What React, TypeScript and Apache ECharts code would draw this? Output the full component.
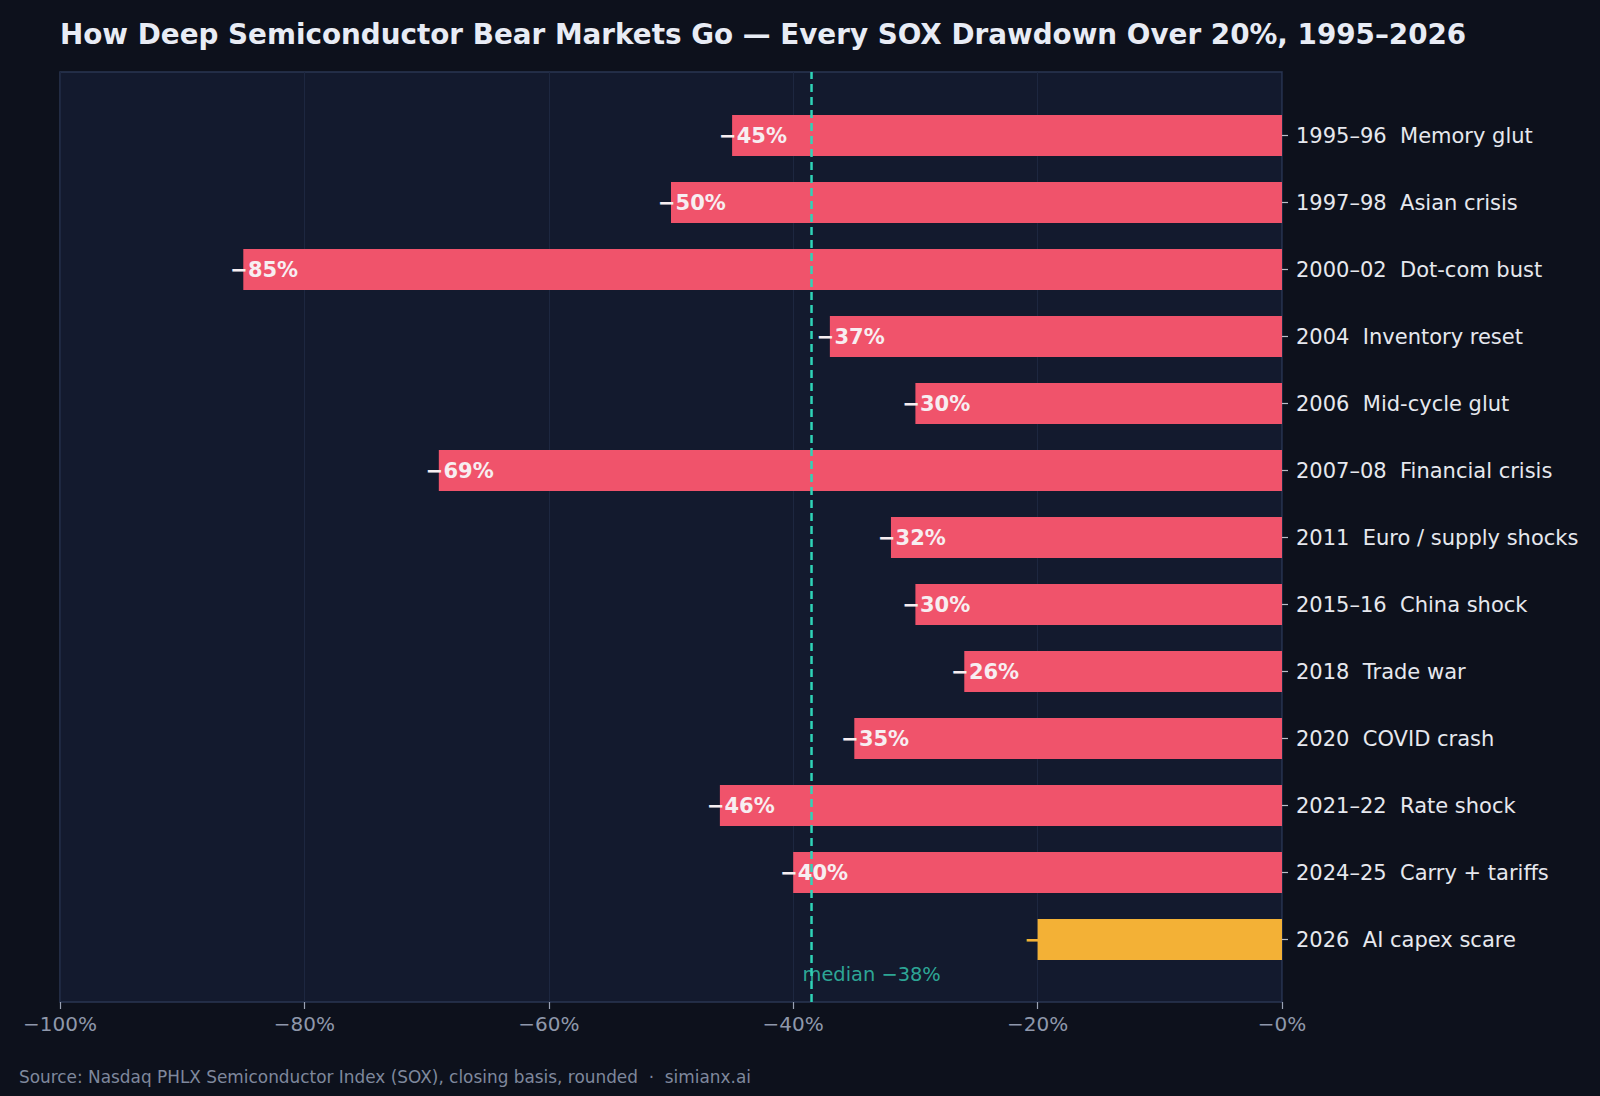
import React, { useEffect, useRef } from "react";
import * as echarts from "echarts";

// SOX drawdowns over 20%, peak to trough, rounded
const periods = [
  "1995–96", "1997–98", "2000–02", "2004", "2006", "2007–08", "2011",
  "2015–16", "2018", "2020", "2021–22", "2024–25", "2026",
];
const causes = [
  "Memory glut", "Asian crisis", "Dot-com bust", "Inventory reset", "Mid-cycle glut",
  "Financial crisis", "Euro / supply shocks", "China shock", "Trade war", "COVID crash",
  "Rate shock", "Carry + tariffs", "AI capex scare",
];
const drawdowns = [-45, -50, -85, -37, -30, -69, -32, -30, -26, -35, -46, -40, -20];
const currentPeriod = "2026";
const medianDrawdown = -38.5;
const medianText = "median −38%";
const xTicks = [-100, -80, -60, -40, -20, 0];
const xTickLabels = ["−100%", "−80%", "−60%", "−40%", "−20%", "−0%"];

const TITLE = "How Deep Semiconductor Bear Markets Go — Every SOX Drawdown Over 20%, 1995–2026";
const SOURCE = "Source: Nasdaq PHLX Semiconductor Index (SOX), closing basis, rounded  ·  simianx.ai";

const RED = "#f0536b";
const GOLD = "#f3b136";
const TEAL = "#2fd4b8";
const FONT = "DejaVu Sans, sans-serif";

export default function App() {
  const ref = useRef<HTMLDivElement>(null);

  useEffect(() => {
    if (!ref.current) return;
    const chart = echarts.init(ref.current, null, { renderer: "svg" });
    const categories = periods.map((p, i) => `${p}  ${causes[i]}`);

    const barData = drawdowns.map((v, i) => {
      const isCurrent = periods[i] === currentPeriod;
      return {
        value: v,
        itemStyle: { color: isCurrent ? GOLD : RED },
        label: { color: isCurrent ? GOLD : "#f7eef1" },
      };
    });

    chart.setOption({
      animation: false,
      backgroundColor: "#0d111c",
      textStyle: { fontFamily: FONT },
      title: [
        {
          text: TITLE,
          left: 60,
          top: 20,
          padding: 0,
          textStyle: { color: "#e8ecf5", fontSize: 27.8, fontWeight: "bold", fontFamily: FONT },
        },
        {
          text: SOURCE,
          left: 19,
          top: 1068,
          padding: 0,
          textStyle: { color: "#7f889c", fontSize: 16.9, fontWeight: "normal", fontFamily: FONT },
        },
      ],
      grid: [
        {
          left: 60,
          right: 318,
          top: 72,
          bottom: 94,
          show: true,
          backgroundColor: "#131a2e",
          borderColor: "#2a3652",
          borderWidth: 1.5,
        },
        { left: 60, right: 318, top: 102, bottom: 123 },
      ],
      xAxis: [
        {
          gridIndex: 0,
          type: "value",
          min: -100,
          max: 0,
          interval: 20,
          axisLine: { show: false },
          axisTick: { show: true, length: 7, lineStyle: { color: "#9aa2b4", width: 1.2 } },
          axisLabel: {
            color: "#8f98ab",
            fontSize: 20,
            margin: 12,
            fontFamily: FONT,
            formatter: (v: number) => xTickLabels[xTicks.indexOf(v)] ?? "",
          },
          splitLine: { show: true, lineStyle: { color: "#1d2740", width: 1 } },
        },
        { gridIndex: 1, type: "value", min: -100, max: 0, show: false },
      ],
      yAxis: [
        { gridIndex: 0, type: "value", min: 0, max: 1, show: false },
        {
          gridIndex: 1,
          type: "category",
          data: categories,
          inverse: true,
          position: "right",
          axisLine: { show: false },
          axisTick: { show: true, alignWithLabel: true, length: 6, lineStyle: { color: "#b8bdc8", width: 1.2 } },
          axisLabel: { color: "#e6e8ee", fontSize: 21, margin: 14, fontFamily: FONT },
          splitLine: { show: false },
        },
      ],
      series: [
        {
          type: "bar",
          xAxisIndex: 1,
          yAxisIndex: 1,
          data: barData,
          barWidth: 41,
          z: 2,
          label: {
            show: true,
            position: "insideLeft",
            distance: 0,
            offset: [-13, 0],
            fontSize: 21,
            fontWeight: "bold",
            fontFamily: FONT,
            formatter: (p: any) => `−${Math.abs(p.value)}%`,
          },
        },
        {
          type: "line",
          xAxisIndex: 0,
          yAxisIndex: 0,
          data: [
            [medianDrawdown, 0],
            [medianDrawdown, 1],
          ],
          symbol: "none",
          z: 5,
          lineStyle: { color: TEAL, width: 2.5, type: [8, 5] },
        },
        {
          type: "scatter",
          xAxisIndex: 0,
          yAxisIndex: 0,
          data: [[medianDrawdown, 0.03]],
          symbolSize: 0,
          z: 6,
          label: {
            show: true,
            position: "right",
            distance: 0,
            offset: [-9, 0],
            color: "#35cdb3",
            fontSize: 19.4,
            fontFamily: FONT,
            formatter: () => medianText,
          },
        },
      ],
    });

    return () => chart.dispose();
  }, []);

  return (
    <div
      ref={ref}
      style={{ position: "fixed", left: 0, top: 0, width: 1600, height: 1096 }}
    />
  );
}
